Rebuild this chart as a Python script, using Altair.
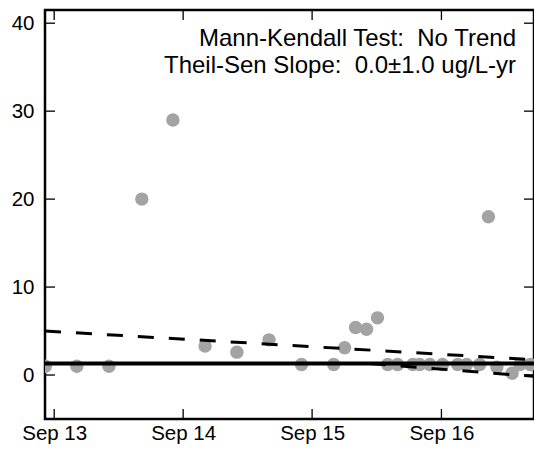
import altair as alt
import pandas as pd

# ---- data ----
sample_dates = ["2013-08-07", "2013-11-04", "2014-02-03", "2014-05-07", "2014-08-03",
                "2014-11-02", "2015-01-31", "2015-05-02", "2015-08-02", "2015-11-01",
                "2015-12-02", "2016-01-02", "2016-02-02", "2016-03-04", "2016-04-02",
                "2016-04-30", "2016-06-12", "2016-07-01", "2016-07-30", "2016-09-04",
                "2016-10-17", "2016-11-11", "2016-12-18", "2017-01-12", "2017-02-05",
                "2017-03-20", "2017-04-11", "2017-05-10", "2017-06-02"]
sample_values = [1.0, 1.0, 1.0, 20.0, 29.0,
                 3.3, 2.6, 4.0, 1.2, 1.2,
                 3.1, 5.4, 5.2, 6.5, 1.2,
                 1.2, 1.2, 1.2, 1.2, 1.2,
                 1.2, 1.2, 1.2, 18.0, 0.9,
                 0.2, 1.2, 1.2, 1.2]

trend_dates = ["2013-08-06", "2017-05-21"]
trend_values = [1.3, 1.3]
upper_dates = ["2013-08-06", "2017-05-21"]
upper_values = [5.0, 1.74]
lower_dates = ["2016-02-11", "2017-05-21"]
lower_values = [1.3, -0.15]

x_tick_dates = ["2013-09-01", "2014-09-01", "2015-09-01", "2016-09-01"]
y_tick_values = [0, 10, 20, 30, 40]

annotation_lines = ["Mann-Kendall Test:\u00a0 No Trend",
                    "Theil-Sen Slope:\u00a0 0.0\u00b11.0 ug/L-yr"]

# ---- layout ----
W, H = 489, 409
FONT = "Liberation Sans"

xscale = alt.Scale(type="utc",
                   domain=[alt.DateTime(year=2013, month=8, date=6, utc=True),
                           alt.DateTime(year=2017, month=5, date=21, utc=True)])
yscale = alt.Scale(domain=[-5, 41.5], nice=False, zero=False)

xaxis = alt.Axis(title=None, values=[alt.DateTime(year=y, month=9, date=1, utc=True)
                                     for y in (2013, 2014, 2015, 2016)],
                 format="%b %y", domain=False, ticks=False, grid=False,
                 labelPadding=4, labelFontSize=20.5, labelFont=FONT,
                 labelColor="black", labelFlush=False, labelOverlap=False)
yaxis = alt.Axis(title=None, values=y_tick_values, domain=False, ticks=False,
                 grid=False, labelPadding=11, labelFontSize=20.5, labelFont=FONT,
                 labelColor="black")

X = alt.X("date:T", scale=xscale, axis=xaxis)
Y = alt.Y("value:Q", scale=yscale, axis=yaxis)

pts_df = pd.DataFrame({"date": sample_dates, "value": sample_values})
trend_df = pd.DataFrame({"date": trend_dates, "value": trend_values})
upper_df = pd.DataFrame({"date": upper_dates, "value": upper_values})
lower_df = pd.DataFrame({"date": lower_dates, "value": lower_values})
xt_df = pd.DataFrame({"date": x_tick_dates})
yt_df = pd.DataFrame({"value": y_tick_values})

points = alt.Chart(pts_df).mark_circle(size=180, color="#a3a3a3", opacity=1,
                                       clip=True).encode(x=X, y=Y)

trend = alt.Chart(trend_df).mark_line(color="black", strokeWidth=4,
                                      clip=True).encode(x=X, y=Y)
upper = alt.Chart(upper_df).mark_line(color="black", strokeWidth=3,
                                      strokeDash=[16, 15], clip=True).encode(x=X, y=Y)
lower = alt.Chart(lower_df).mark_line(color="black", strokeWidth=3,
                                      strokeDash=[16, 15], clip=True).encode(x=X, y=Y)

xt_bottom = alt.Chart(xt_df).mark_rule(color="black", strokeWidth=1.3).encode(
    x=X, y=alt.value(H - 10), y2=alt.value(H))
xt_top = alt.Chart(xt_df).mark_rule(color="black", strokeWidth=1.3).encode(
    x=X, y=alt.value(0), y2=alt.value(10))
yt_left = alt.Chart(yt_df).mark_rule(color="black", strokeWidth=1.3).encode(
    y=Y, x=alt.value(0), x2=alt.value(10))
yt_right = alt.Chart(yt_df).mark_rule(color="black", strokeWidth=1.3).encode(
    y=Y, x=alt.value(W - 10), x2=alt.value(W))

texts = []
for i, line in enumerate(annotation_lines):
    texts.append(
        alt.Chart(pd.DataFrame({"label": [line]})).mark_text(
            align="right", baseline="alphabetic", fontSize=24, font=FONT,
            color="black").encode(
            x=alt.value(471), y=alt.value(36 + 27.3 * i), text="label:N")
    )

chart = alt.layer(points, trend, upper, lower, xt_bottom, xt_top, yt_left,
                  yt_right, *texts).properties(
    width=W, height=H,
    autosize=alt.AutoSizeParams(type="none"),
    padding={"left": 37, "top": 2, "right": 0, "bottom": 26},
).configure_view(stroke="black", strokeWidth=2.5)

chart.save("out.html", embed_options={"renderer": "svg", "actions": False})
